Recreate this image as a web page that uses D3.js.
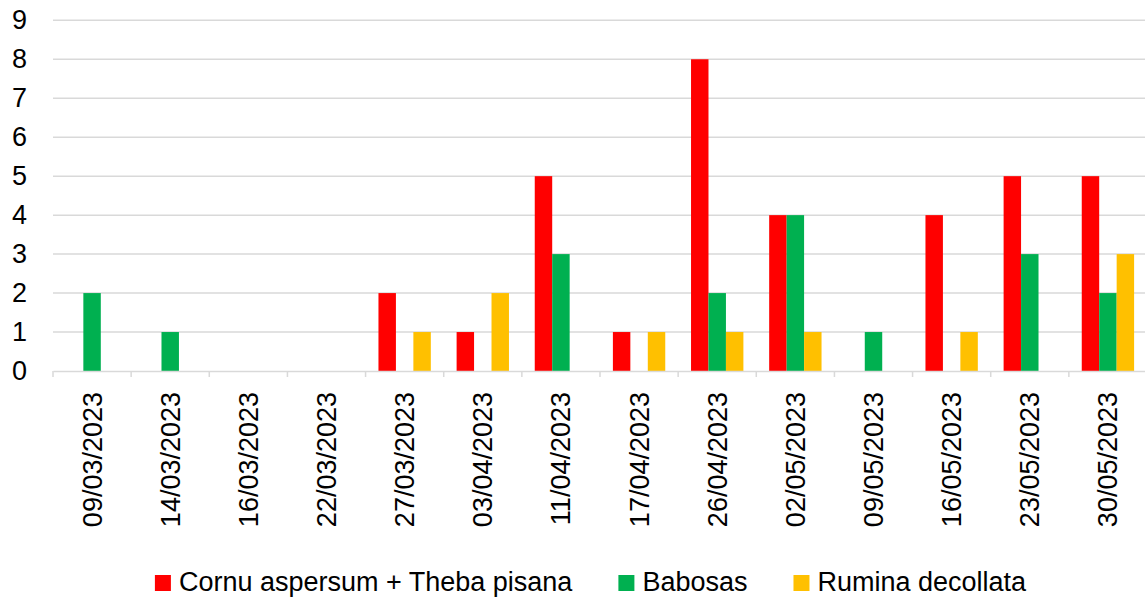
<!DOCTYPE html>
<html>
<head>
<meta charset="utf-8">
<script src="https://cdn.jsdelivr.net/npm/d3@7"></script>
<style>
  html, body { margin: 0; padding: 0; background: #ffffff; }
  svg { display: block; font-family: "Liberation Sans", Arial, sans-serif; }
</style>
</head>
<body>
<svg id="chart" width="1145" height="599"></svg>
<script>
// Sampling dates
const dates = ["09/03/2023", "14/03/2023", "16/03/2023", "22/03/2023", "27/03/2023",
  "03/04/2023", "11/04/2023", "17/04/2023", "26/04/2023", "02/05/2023",
  "09/05/2023", "16/05/2023", "23/05/2023", "30/05/2023"];

// Counts per species group
const cornuTheba = [0, 0, 0, 0, 2, 1, 5, 1, 8, 4, 0, 4, 5, 5];
const babosas    = [2, 1, 0, 0, 0, 0, 3, 0, 2, 4, 1, 0, 3, 2];
const rumina     = [0, 0, 0, 0, 1, 2, 0, 1, 1, 1, 0, 1, 0, 3];

const seriesNames = ["Cornu aspersum + Theba pisana", "Babosas", "Rumina decollata"];
const seriesColors = ["#FF0000", "#00B050", "#FFC000"];
const yTicks = [0, 1, 2, 3, 4, 5, 6, 7, 8, 9];

const series = [cornuTheba, babosas, rumina];

const svg = d3.select("#chart");
const plotLeft = 53, plotRight = 1147, plotTop = 20.3, plotBottom = 371;
const fontSize = 27;

const x = d3.scaleBand().domain(dates).range([plotLeft, plotRight]).paddingInner(0).paddingOuter(0);
const y = d3.scaleLinear().domain([0, 9]).range([plotBottom, plotTop]);
const groupPad = 0.165;
const xs = d3.scaleBand().domain(d3.range(series.length))
  .range([x.bandwidth() * groupPad, x.bandwidth() * (1 - groupPad)]);

// Horizontal gridlines
svg.append("g")
  .selectAll("line")
  .data(yTicks.filter(d => d > 0))
  .join("line")
  .attr("x1", plotLeft).attr("x2", plotRight)
  .attr("y1", d => y(d)).attr("y2", d => y(d))
  .attr("stroke", "#d9d9d9").attr("stroke-width", 1.5);

// Bars
const groups = svg.append("g")
  .selectAll("g")
  .data(dates)
  .join("g")
  .attr("transform", d => `translate(${x(d)},0)`);

groups.selectAll("rect")
  .data((d, i) => series.map((s, k) => ({ k, v: s[i] })))
  .join("rect")
  .attr("x", d => xs(d.k))
  .attr("width", xs.bandwidth())
  .attr("y", d => y(d.v))
  .attr("height", d => y(0) - y(d.v))
  .attr("fill", d => seriesColors[d.k]);

// Category axis
const xAxis = svg.append("g")
  .attr("transform", `translate(0,${plotBottom})`)
  .call(d3.axisBottom(x).tickSize(0).tickFormat(""));
xAxis.select(".domain").attr("stroke", "#d9d9d9").attr("stroke-width", 1.5);

// Tick marks between categories
svg.append("g")
  .selectAll("line")
  .data(d3.range(dates.length + 1))
  .join("line")
  .attr("x1", i => plotLeft + i * x.step())
  .attr("x2", i => plotLeft + i * x.step())
  .attr("y1", plotBottom).attr("y2", plotBottom + 6)
  .attr("stroke", "#d9d9d9").attr("stroke-width", 1.5);

// Rotated date labels
svg.append("g")
  .selectAll("text")
  .data(dates)
  .join("text")
  .attr("transform", d => `translate(${x(d) + x.bandwidth() / 2},${plotBottom + 21}) rotate(-90)`)
  .attr("text-anchor", "end")
  .attr("dy", "0.35em")
  .attr("font-size", fontSize)
  .attr("fill", "#000")
  .text(d => d);

// Value axis labels
const yAxis = svg.append("g")
  .attr("transform", `translate(${plotLeft},0)`)
  .call(d3.axisLeft(y).tickValues(yTicks).tickSize(0).tickPadding(26).tickFormat(d3.format("d")));
yAxis.select(".domain").remove();
yAxis.selectAll("text")
  .attr("font-size", fontSize)
  .attr("font-family", "Liberation Sans, Arial, sans-serif")
  .attr("fill", "#000");

// Legend
const legend = svg.append("g");
const items = legend.selectAll("g")
  .data(seriesNames)
  .join("g");
items.append("rect")
  .attr("width", 16).attr("height", 16)
  .attr("y", 575)
  .attr("fill", (d, i) => seriesColors[i]);
items.append("text")
  .attr("x", 24)
  .attr("y", 591)
  .attr("font-size", fontSize)
  .attr("fill", "#000")
  .text(d => d);

const widths = [];
items.each(function () {
  widths.push(24 + d3.select(this).select("text").node().getComputedTextLength());
});
const gap = 46;
const total = d3.sum(widths) + gap * (widths.length - 1);
let cx = 590.5 - total / 2;
items.attr("transform", (d, i) => {
  const t = `translate(${cx},0)`;
  cx += widths[i] + gap;
  return t;
});
</script>
</body>
</html>
